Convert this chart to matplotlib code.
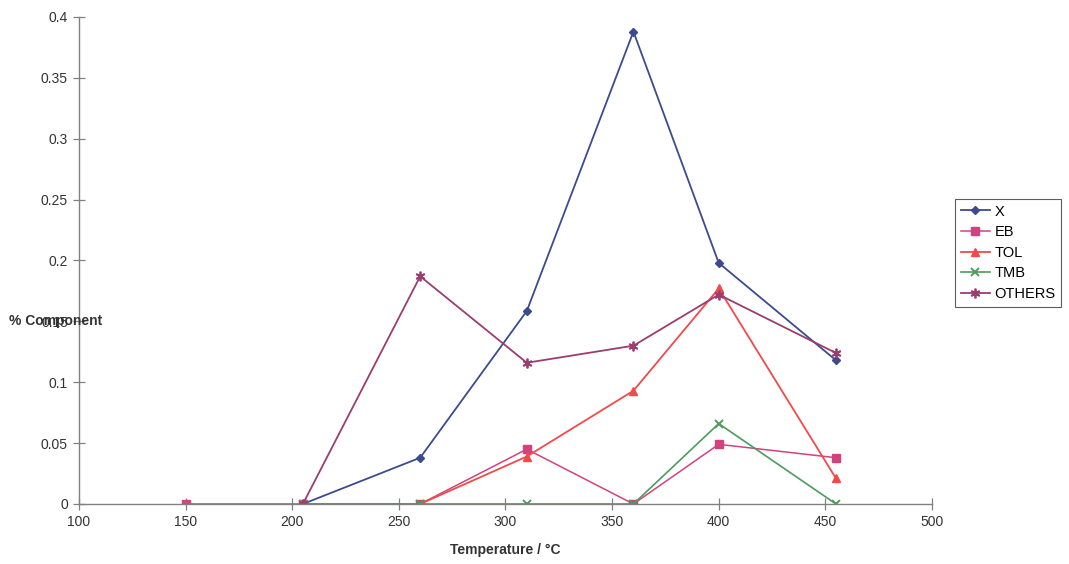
import matplotlib
matplotlib.use("Agg")
import matplotlib.pyplot as plt

plt.rcParams['font.family'] = ['Liberation Sans', 'DejaVu Sans']

# Data
temp_eb = [150, 205, 260, 310, 360, 400, 455]
eb = [0, 0, 0, 0.045, 0, 0.049, 0.038]

temp_x = [205, 260, 310, 360, 400, 455]
x_vals = [0, 0.038, 0.1585, 0.388, 0.198, 0.118]

temp_tol = [260, 310, 360, 400, 455]
tol = [0, 0.039, 0.093, 0.177, 0.021]

temp_tmb = [205, 260, 310, 360, 400, 455]
tmb = [0, 0, 0, 0, 0.066, 0]

temp_oth = [205, 260, 310, 360, 400, 455]
others = [0, 0.187, 0.116, 0.130, 0.172, 0.124]

x_ticks = [100, 150, 200, 250, 300, 350, 400, 450, 500]
y_ticks = [0, 0.05, 0.1, 0.15, 0.2, 0.25, 0.3, 0.35, 0.4]

fig = plt.figure(figsize=(10.69, 5.64), dpi=100)
ax = fig.add_axes([0.0739, 0.1064, 0.7979, 0.8635])

ax.plot(temp_x, x_vals, color='#3b4b8e', marker='D', markersize=4.5, lw=1.3, label='X')
ax.plot(temp_eb, eb, color='#d2427e', marker='s', markersize=5.5, lw=1.1, label='EB')
ax.plot(temp_tol, tol, color='#f04a4a', marker='^', markersize=6, lw=1.3, label='TOL')
ax.plot(temp_tmb, tmb, color='#4f9a5c', marker='x', markersize=6, mew=1.4, lw=1.2, label='TMB')
ax.plot(temp_oth, others, color='#9b3d6e', marker=(6, 2, 0), markersize=7, mew=1.3, lw=1.3, label='OTHERS')

ax.set_xlim(100, 500)
ax.set_ylim(0, 0.4)
ax.set_xticks(x_ticks)
ax.set_yticks(y_ticks)
ax.set_xticklabels([str(t) for t in x_ticks])
ax.set_yticklabels(['0', '0.05', '0.1', '0.15', '0.2', '0.25', '0.3', '0.35', '0.4'])

for side in ['top', 'right']:
    ax.spines[side].set_visible(False)
for side in ['left', 'bottom']:
    ax.spines[side].set_color('#808080')
    ax.spines[side].set_linewidth(1.0)
ax.tick_params(direction='inout', length=8, width=0.9, color='#808080',
               labelsize=10, labelcolor='#333333', pad=4)

ax.set_xlabel('Temperature / °C', fontsize=10, fontweight='bold', color='#333333', labelpad=10)
# y label sits horizontally across the 0.15 tick label, as in the original
fig.text(0.008, 0.43, '% Component', fontsize=10, fontweight='bold', color='#333333',
         ha='left', va='center')

leg = ax.legend(loc='center left', bbox_to_anchor=(1.027, 0.516), borderaxespad=0,
                frameon=True, fancybox=False, edgecolor='#333333', fontsize=10.5,
                handlelength=2.0, labelspacing=0.45, borderpad=0.4, handletextpad=0.3)
leg.get_frame().set_linewidth(0.8)

fig.savefig('out.png', dpi=100)
